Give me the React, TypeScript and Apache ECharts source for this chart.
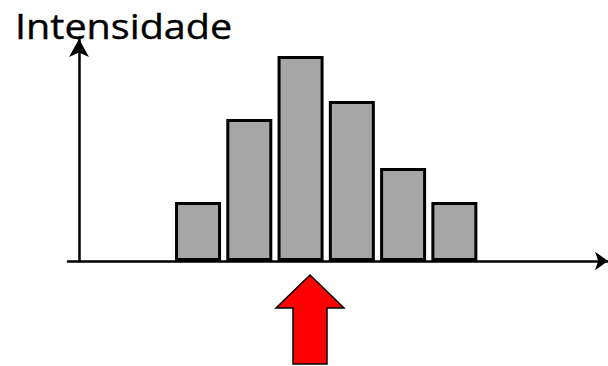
import React, { useEffect, useRef } from "react";
import * as echarts from "echarts";

const categories = ["1", "2", "3", "4", "5", "6"];
const intensities = [59, 142, 205, 160, 93, 59];
const yLabel = "Intensidade";

export default function App() {
  const ref = useRef<HTMLDivElement>(null);
  useEffect(() => {
    if (!ref.current) return;
    const chart = echarts.init(ref.current, undefined, { renderer: "svg" });
    chart.setOption({
      animation: false,
      backgroundColor: "#ffffff",
      grid: [
        { left: 172.4, width: 307.6, top: 39, bottom: 105 },
        { left: 68, right: 0, top: 39, bottom: 105 },
      ],
      xAxis: [
        {
          type: "category",
          gridIndex: 0,
          data: categories,
          show: false,
        },
        {
          type: "value",
          gridIndex: 1,
          min: 0,
          max: 1,
          axisLine: {
            show: true,
            onZero: false,
            symbol: ["none", "arrow"],
            symbolSize: [14, 13],
            lineStyle: { color: "#000", width: 2.5 },
          },
          axisTick: { show: false },
          axisLabel: { show: false },
          splitLine: { show: false },
        },
      ],
      yAxis: [
        {
          type: "value",
          gridIndex: 0,
          min: 0,
          max: 222,
          show: false,
        },
        {
          type: "value",
          gridIndex: 1,
          min: 0,
          max: 1,
          offset: -11,
          axisLine: {
            show: true,
            onZero: false,
            symbol: ["none", "arrow"],
            symbolSize: [15, 18],
            lineStyle: { color: "#000", width: 2.5 },
          },
          axisTick: { show: false },
          axisLabel: { show: false },
          splitLine: { show: false },
        },
      ],
      series: [
        {
          type: "bar",
          xAxisIndex: 0,
          yAxisIndex: 0,
          data: intensities,
          barWidth: 46,
          itemStyle: { color: "#a6a6a6", borderColor: "#000", borderWidth: 3 },
          silent: true,
        },
      ],
      graphic: [
        {
          type: "text",
          x: 15,
          y: 25,
          scaleX: 1.13,
          style: {
            text: yLabel,
            fontFamily: "Open Sans",
            fontSize: 35,
            fill: "#000",
            stroke: "#000",
            lineWidth: 0.4,
            verticalAlign: "middle",
          },
        },
        {
          type: "polygon",
          shape: {
            points: [
              [310, 275],
              [344, 308],
              [327, 308],
              [327, 364],
              [293, 364],
              [293, 308],
              [276, 308],
            ],
          },
          style: { fill: "#ff0000", stroke: "#000", lineWidth: 1.5 },
          z: 10,
        },
      ],
    });
    return () => chart.dispose();
  }, []);
  return <div ref={ref} style={{ width: 608, height: 366, position: "absolute", left: 0, top: 0 }} />;
}
